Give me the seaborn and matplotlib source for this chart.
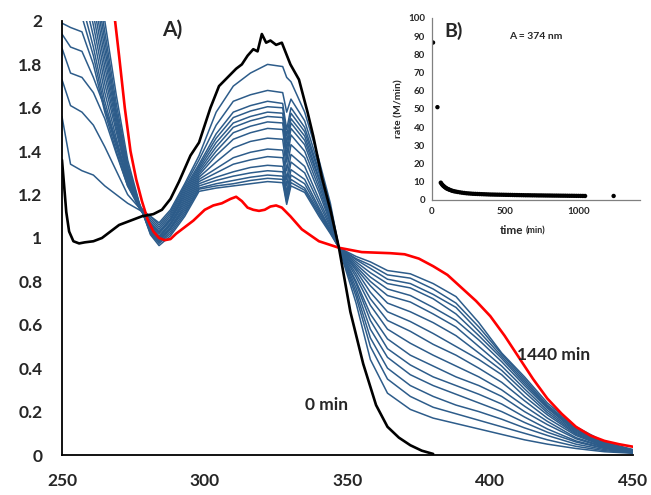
import numpy as np
import pandas as pd
import matplotlib
matplotlib.use("Agg")
import matplotlib.pyplot as plt
import seaborn as sns

# ---- main panel A: UV-vis spectra ----
wl_black = [250, 250.7, 251.5, 252.5, 254, 256, 258, 261, 264, 267, 270, 274, 278, 282, 285, 288,
            291, 295, 298, 302, 305, 308, 311, 313, 315, 317, 318.5, 320, 321.5, 323, 325, 327,
            328.5, 330, 333, 336, 338, 341, 344, 347, 351, 355.5, 360, 364, 368, 372, 376, 380]
abs_black = [1.36, 1.25, 1.12, 1.03, 0.985, 0.975, 0.98, 0.985, 1.0, 1.03, 1.06, 1.08, 1.10, 1.11,
             1.13, 1.18, 1.26, 1.38, 1.44, 1.60, 1.70, 1.74, 1.78, 1.80, 1.84, 1.87, 1.86, 1.94,
             1.90, 1.91, 1.89, 1.90, 1.85, 1.80, 1.73, 1.58, 1.47, 1.28, 1.13, 0.955, 0.66, 0.42,
             0.23, 0.13, 0.08, 0.045, 0.02, 0.005]

wl_red = [268, 268.6, 270, 271, 272, 274, 276, 278, 280, 282, 284, 286, 288, 290, 293, 296, 300,
          303, 306, 309, 311, 313, 315, 317, 319, 321, 323, 325, 327, 330, 334, 340, 347, 355,
          365, 370, 375, 380, 385, 390, 395, 400, 405, 410, 415, 420, 425, 430, 435, 440, 445, 450]
abs_red = [2.05, 2.0, 1.84, 1.72, 1.60, 1.40, 1.27, 1.17, 1.085, 1.03, 1.0, 0.99, 0.995, 1.02,
           1.05, 1.08, 1.13, 1.15, 1.16, 1.18, 1.19, 1.17, 1.14, 1.13, 1.125, 1.13, 1.145, 1.15,
           1.14, 1.10, 1.04, 0.985, 0.955, 0.935, 0.93, 0.925, 0.905, 0.87, 0.83, 0.77, 0.71,
           0.64, 0.55, 0.45, 0.35, 0.26, 0.19, 0.13, 0.09, 0.065, 0.05, 0.038]

wl_blue = [250, 253, 257, 261, 265, 269, 273, 277, 281, 284, 288, 293, 298, 304, 310, 316, 322,
           327.3, 328.7, 330.2, 335, 340, 344, 347, 353, 358, 364, 372, 380, 388, 396, 404, 412,
           420, 430, 440, 450]
# intermediate spectra, earliest first
blue_curves = [
    [1.56, 1.34, 1.31, 1.29, 1.24, 1.20, 1.16, 1.13, 1.10,
     1.07, 1.13, 1.25, 1.38, 1.58, 1.70, 1.76, 1.80, 1.79, 1.74, 1.72, 1.58, 1.36, 1.16, 0.955,
     0.70, 0.44, 0.285, 0.21, 0.17, 0.145, 0.12, 0.095, 0.07, 0.05, 0.03, 0.015, 0.008],
    [1.73, 1.61, 1.58, 1.52, 1.42, 1.31, 1.20, 1.14, 1.10,
     1.06, 1.12, 1.24, 1.36, 1.52, 1.63, 1.66, 1.68, 1.67, 1.58, 1.64, 1.54, 1.33, 1.14, 0.955,
     0.73, 0.50, 0.35, 0.27, 0.22, 0.19, 0.16, 0.13, 0.10, 0.07, 0.04, 0.02, 0.01],
    [1.875, 1.76, 1.74, 1.67, 1.55, 1.39, 1.24, 1.15, 1.09,
     1.05, 1.11, 1.23, 1.34, 1.48, 1.58, 1.61, 1.63, 1.62, 1.50, 1.60, 1.51, 1.31, 1.13, 0.955,
     0.75, 0.54, 0.40, 0.32, 0.27, 0.23, 0.20, 0.165, 0.125, 0.09, 0.05, 0.025, 0.01],
    [1.94, 1.88, 1.86, 1.74, 1.60, 1.44, 1.27, 1.15, 1.08,
     1.04, 1.10, 1.22, 1.33, 1.46, 1.555, 1.585, 1.605, 1.60, 1.47, 1.575, 1.49, 1.30, 1.12, 0.955,
     0.77, 0.58, 0.45, 0.37, 0.32, 0.28, 0.24, 0.20, 0.15, 0.105, 0.06, 0.03, 0.012],
    [1.99, 1.97, 1.95, 1.80, 1.58, 1.40, 1.24, 1.14, 1.07,
     1.03, 1.09, 1.21, 1.32, 1.44, 1.53, 1.56, 1.58, 1.575, 1.44, 1.55, 1.47, 1.28, 1.11, 0.955,
     0.79, 0.62, 0.49, 0.415, 0.36, 0.32, 0.28, 0.235, 0.175, 0.12, 0.065, 0.032, 0.012],
    [2.2, 2.1, 2.02, 1.84, 1.60, 1.42, 1.25, 1.14, 1.065,
     1.025, 1.085, 1.20, 1.31, 1.42, 1.51, 1.54, 1.56, 1.555, 1.41, 1.53, 1.45, 1.27, 1.10, 0.955,
     0.80, 0.65, 0.535, 0.46, 0.41, 0.36, 0.32, 0.27, 0.20, 0.14, 0.075, 0.035, 0.014],
    [2.3, 2.2, 2.08, 1.88, 1.63, 1.44, 1.26, 1.14, 1.06,
     1.02, 1.08, 1.19, 1.30, 1.40, 1.485, 1.515, 1.535, 1.53, 1.38, 1.505, 1.43, 1.25, 1.09, 0.955,
     0.82, 0.69, 0.58, 0.515, 0.46, 0.41, 0.36, 0.30, 0.225, 0.155, 0.08, 0.038, 0.015],
    [2.4, 2.3, 2.15, 1.93, 1.67, 1.46, 1.27, 1.145, 1.055,
     1.01, 1.07, 1.18, 1.29, 1.38, 1.455, 1.485, 1.505, 1.50, 1.35, 1.475, 1.40, 1.23, 1.08, 0.955,
     0.835, 0.72, 0.62, 0.57, 0.51, 0.46, 0.40, 0.335, 0.25, 0.17, 0.09, 0.04, 0.016],
    [2.5, 2.4, 2.22, 1.98, 1.71, 1.49, 1.28, 1.145, 1.05,
     1.005, 1.065, 1.17, 1.28, 1.35, 1.415, 1.445, 1.46, 1.455, 1.31, 1.43, 1.37, 1.21, 1.07, 0.955,
     0.85, 0.75, 0.66, 0.615, 0.56, 0.50, 0.44, 0.37, 0.27, 0.185, 0.095, 0.043, 0.017],
    [2.6, 2.5, 2.30, 2.03, 1.75, 1.51, 1.29, 1.15, 1.045,
     1.0, 1.06, 1.16, 1.27, 1.32, 1.37, 1.395, 1.41, 1.405, 1.27, 1.385, 1.33, 1.18, 1.06, 0.955,
     0.86, 0.78, 0.70, 0.66, 0.61, 0.55, 0.47, 0.39, 0.29, 0.195, 0.10, 0.045, 0.018],
    [2.7, 2.6, 2.37, 2.08, 1.79, 1.53, 1.30, 1.15, 1.04,
     0.995, 1.05, 1.15, 1.26, 1.30, 1.34, 1.36, 1.375, 1.37, 1.24, 1.35, 1.30, 1.16, 1.05, 0.955,
     0.87, 0.80, 0.735, 0.705, 0.65, 0.59, 0.50, 0.41, 0.305, 0.205, 0.105, 0.048, 0.019],
    [2.8, 2.7, 2.44, 2.13, 1.83, 1.55, 1.31, 1.155, 1.035,
     0.99, 1.045, 1.14, 1.25, 1.28, 1.305, 1.325, 1.335, 1.33, 1.21, 1.315, 1.27, 1.14, 1.04, 0.955,
     0.88, 0.82, 0.765, 0.735, 0.68, 0.62, 0.53, 0.43, 0.32, 0.215, 0.11, 0.05, 0.02],
    [2.9, 2.8, 2.50, 2.18, 1.87, 1.57, 1.32, 1.155, 1.03,
     0.985, 1.04, 1.13, 1.24, 1.265, 1.285, 1.30, 1.31, 1.305, 1.19, 1.29, 1.25, 1.13, 1.035, 0.955,
     0.89, 0.84, 0.79, 0.77, 0.72, 0.65, 0.55, 0.445, 0.33, 0.22, 0.115, 0.052, 0.021],
    [3.0, 2.9, 2.56, 2.23, 1.91, 1.59, 1.33, 1.16, 1.025,
     0.98, 1.03, 1.12, 1.23, 1.25, 1.265, 1.28, 1.29, 1.285, 1.175, 1.27, 1.23, 1.12, 1.03, 0.955,
     0.90, 0.86, 0.81, 0.79, 0.74, 0.68, 0.57, 0.455, 0.34, 0.225, 0.12, 0.054, 0.022],
    [3.0, 3.0, 2.62, 2.28, 1.95, 1.62, 1.34, 1.16, 1.02,
     0.975, 1.02, 1.11, 1.225, 1.24, 1.25, 1.265, 1.275, 1.27, 1.165, 1.255, 1.22, 1.11, 1.025, 0.955,
     0.905, 0.875, 0.83, 0.815, 0.765, 0.70, 0.59, 0.465, 0.35, 0.23, 0.125, 0.056, 0.023],
    [3.0, 3.0, 2.70, 2.35, 2.00, 1.66, 1.36, 1.165, 1.015,
     0.965, 1.01, 1.10, 1.215, 1.23, 1.24, 1.25, 1.26, 1.255, 1.155, 1.24, 1.21, 1.10, 1.02, 0.955,
     0.915, 0.89, 0.85, 0.835, 0.79, 0.73, 0.61, 0.47, 0.36, 0.24, 0.13, 0.06, 0.025],
]

x_ticks = [250, 300, 350, 400, 450]
y_ticks = [0, 0.2, 0.4, 0.6, 0.8, 1.0, 1.2, 1.4, 1.6, 1.8, 2.0]
y_tick_labels = ["0", "0.2", "0.4", "0.6", "0.8", "1", "1.2", "1.4", "1.6", "1.8", "2"]

# ---- inset panel B: rate vs time ----
t_early = [7, 37]
rate_early = [86.5, 51]
t_main = [60, 66, 72, 78, 84, 90, 97, 104, 112, 120, 130, 140, 150, 162, 175, 190, 205, 220,
          235, 250, 265, 280, 295, 310, 325, 340, 355, 370, 385, 400, 415, 430, 445, 460, 475,
          490, 505, 520, 535, 550, 565, 580, 595, 610, 625, 640, 655, 670, 685, 700, 715, 730,
          745, 760, 775, 790, 805, 820, 835, 850, 865, 880, 895, 910, 925, 940, 955, 970, 985,
          1000, 1015, 1030, 1045]
rate_main = [9.5, 8.8, 8.2, 7.7, 7.3, 6.9, 6.5, 6.2, 5.9, 5.6, 5.3, 5.0, 4.8, 4.6, 4.4, 4.2,
             4.0, 3.85, 3.7, 3.6, 3.5, 3.4, 3.35, 3.3, 3.25, 3.2, 3.15, 3.1, 3.05, 3.0, 2.98,
             2.95, 2.92, 2.9, 2.88, 2.85, 2.82, 2.8, 2.78, 2.75, 2.72, 2.7, 2.68, 2.65, 2.63,
             2.6, 2.6, 2.58, 2.55, 2.55, 2.52, 2.5, 2.5, 2.48, 2.46, 2.45, 2.44, 2.42, 2.4,
             2.4, 2.38, 2.36, 2.35, 2.34, 2.32, 2.3, 2.3, 2.28, 2.26, 2.25, 2.24, 2.22, 2.2]
t_late = [1240]
rate_late = [2.2]

sns.set_style("white")
plt.rcParams['font.family'] = ['Lato', 'DejaVu Sans']
plt.rcParams['font.weight'] = 'bold'

blue = '#2d5c8a'
df_blue = pd.DataFrame([(k, w, a) for k, row in enumerate(blue_curves)
                        for w, a in zip(wl_blue, row)], columns=['curve', 'wl', 'A'])

fig = plt.figure(figsize=(6.51, 4.95), dpi=100)
ax = fig.add_axes([0.0952, 0.0808, 0.8772, 0.8768])

sns.lineplot(data=df_blue, x='wl', y='A', units='curve', estimator=None,
             color=blue, lw=1.1, ax=ax)
sns.lineplot(x=wl_red, y=abs_red, color='#ff0000', lw=1.9, ax=ax)
sns.lineplot(x=wl_black, y=abs_black, color='black', lw=1.9, ax=ax)

ax.set_xlim(250, 450)
ax.set_ylim(0, 2)
ax.set_xticks(x_ticks)
ax.set_xticklabels([str(v) for v in x_ticks])
ax.set_yticks(y_ticks)
ax.set_yticklabels(y_tick_labels)
ax.set_xlabel('')
ax.set_ylabel('')
for s in ['top', 'right']:
    ax.spines[s].set_visible(False)
for s in ['left', 'bottom']:
    ax.spines[s].set_linewidth(1.3)
    ax.spines[s].set_color('black')
ax.tick_params(axis='x', direction='out', length=6, width=1.3, pad=7, labelsize=12.5)
ax.tick_params(axis='y', length=0, pad=14, labelsize=12.5)
for lbl in ax.get_xticklabels() + ax.get_yticklabels():
    lbl.set_fontweight('bold')

ax.text(285, 1.96, 'A)', fontsize=15, fontweight='bold', va='center')
ax.text(335, 0.23, '0 min', fontsize=12.5, fontweight='bold', va='center')
ax.text(409.5, 0.46, '1440 min', fontsize=12.5, fontweight='bold', va='center')

# inset
axin = fig.add_axes([0.6636, 0.596, 0.3195, 0.3677])
axin.set_facecolor('white')
sns.scatterplot(x=t_early + t_main + t_late, y=rate_early + rate_main + rate_late,
                color='black', s=10, edgecolor='none', ax=axin)
axin.set_xlim(0, 1420)
axin.set_ylim(0, 100)
axin.set_xticks([0, 500, 1000])
axin.set_yticks(list(range(0, 101, 10)))
for s in ['top', 'right']:
    axin.spines[s].set_visible(False)
for s in ['left', 'bottom']:
    axin.spines[s].set_color('#808080')
    axin.spines[s].set_linewidth(0.9)
axin.tick_params(direction='out', length=3, width=0.8, color='#808080', labelsize=7, pad=2)
for lbl in axin.get_xticklabels() + axin.get_yticklabels():
    lbl.set_fontweight('bold')
axin.set_ylabel('rate (M/min)', fontsize=7.5, fontweight='bold', labelpad=3)
axin.set_xlabel('')
axin.text(0.44, -0.17, 'time', transform=axin.transAxes, ha='right', va='center',
          fontsize=8.5, fontweight='bold')
axin.text(0.452, -0.17, '(min)', transform=axin.transAxes, ha='left', va='center',
          fontsize=6.5, fontweight='bold')
axin.text(0.5, 0.9, 'A = 374 nm', transform=axin.transAxes, ha='center', va='center',
          fontsize=7.5, fontweight='bold')
axin.text(0.06, 0.93, 'B)', transform=axin.transAxes, ha='left', va='center',
          fontsize=14, fontweight='bold')

fig.savefig('out.png', dpi=100)
